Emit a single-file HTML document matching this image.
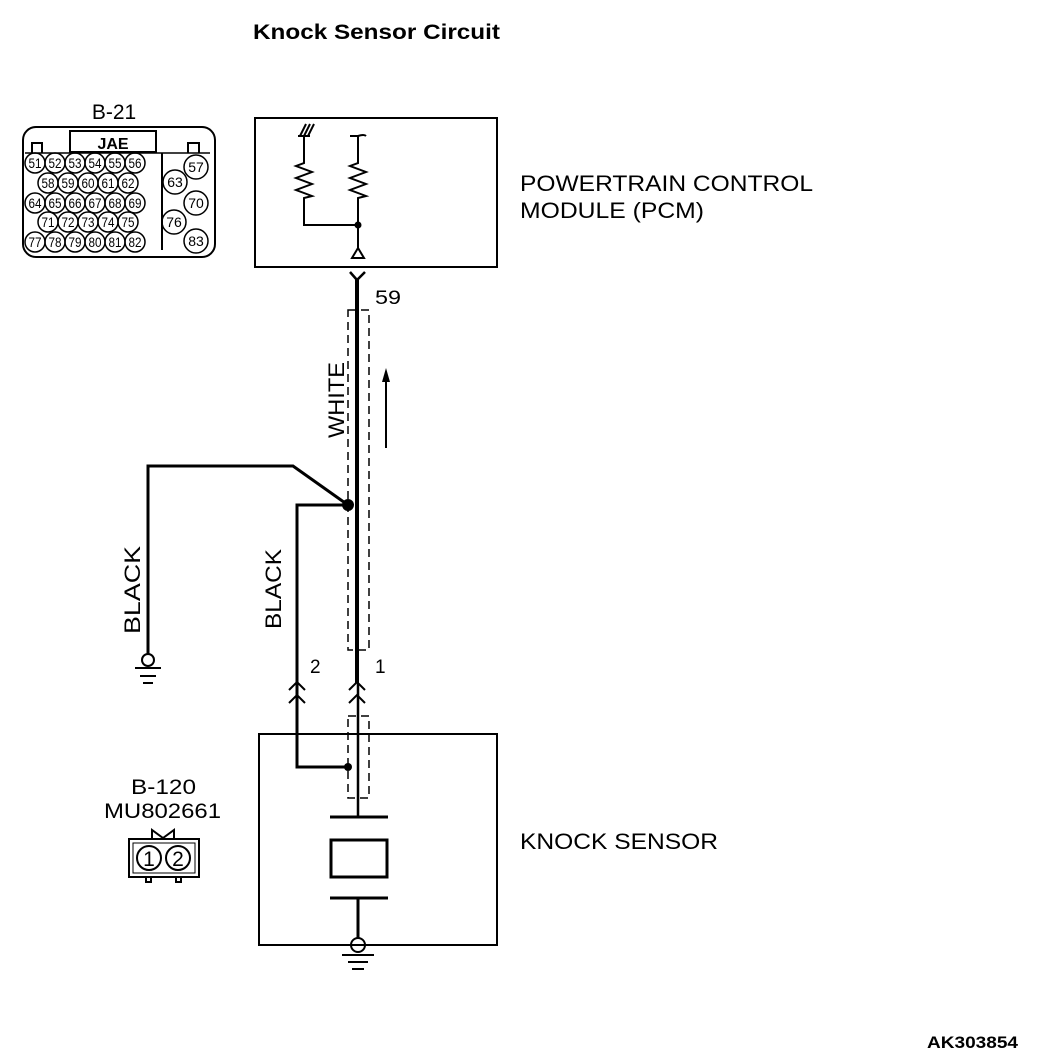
<!DOCTYPE html>
<html><head><meta charset="utf-8"><style>
html,body{margin:0;padding:0;background:#fff;}
svg{display:block;}
text{font-family:"Liberation Sans",Arial,sans-serif;fill:#000;}
</style></head><body>
<svg width="1056" height="1058" viewBox="0 0 1056 1058" xmlns="http://www.w3.org/2000/svg">
<g fill="none" stroke="#000">
<text x="253" y="39" font-size="21" font-weight="bold" stroke="none" textLength="247" lengthAdjust="spacingAndGlyphs">Knock Sensor Circuit</text>

<!-- B-21 connector -->
<text x="114" y="119" font-size="21" text-anchor="middle" stroke="none">B-21</text>
<rect x="23" y="127" width="192" height="130" rx="13" stroke-width="2"/>
<rect x="70" y="131" width="86" height="21" stroke-width="2"/>
<text x="113" y="149" font-size="16" font-weight="bold" text-anchor="middle" stroke="none">JAE</text>
<path d="M32 153V143H42V153 M188 153V143H199V153 M162 153V250" stroke-width="2"/>
<path d="M25 153H210" stroke-width="1.5"/>
<g stroke-width="1.5">
<circle cx="35" cy="163" r="10"/><circle cx="55" cy="163" r="10"/><circle cx="75" cy="163" r="10"/><circle cx="95" cy="163" r="10"/><circle cx="115" cy="163" r="10"/><circle cx="135" cy="163" r="10"/>
<circle cx="48" cy="183" r="10"/><circle cx="68" cy="183" r="10"/><circle cx="88" cy="183" r="10"/><circle cx="108" cy="183" r="10"/><circle cx="128" cy="183" r="10"/>
<circle cx="35" cy="203" r="10"/><circle cx="55" cy="203" r="10"/><circle cx="75" cy="203" r="10"/><circle cx="95" cy="203" r="10"/><circle cx="115" cy="203" r="10"/><circle cx="135" cy="203" r="10"/>
<circle cx="48" cy="222" r="10"/><circle cx="68" cy="222" r="10"/><circle cx="88" cy="222" r="10"/><circle cx="108" cy="222" r="10"/><circle cx="128" cy="222" r="10"/>
<circle cx="35" cy="242" r="10"/><circle cx="55" cy="242" r="10"/><circle cx="75" cy="242" r="10"/><circle cx="95" cy="242" r="10"/><circle cx="115" cy="242" r="10"/><circle cx="135" cy="242" r="10"/>
<circle cx="196" cy="167" r="12"/><circle cx="175" cy="182" r="12"/><circle cx="196" cy="203" r="12"/><circle cx="174" cy="222" r="12"/><circle cx="196" cy="241" r="12"/>
</g>
<g font-size="14" text-anchor="middle" stroke="none" transform="scale(1,1)">
<g transform="translate(0,0)">
<text x="35" y="168" textLength="13" lengthAdjust="spacingAndGlyphs">51</text><text x="55" y="168" textLength="13" lengthAdjust="spacingAndGlyphs">52</text><text x="75" y="168" textLength="13" lengthAdjust="spacingAndGlyphs">53</text><text x="95" y="168" textLength="13" lengthAdjust="spacingAndGlyphs">54</text><text x="115" y="168" textLength="13" lengthAdjust="spacingAndGlyphs">55</text><text x="135" y="168" textLength="13" lengthAdjust="spacingAndGlyphs">56</text>
<text x="48" y="188" textLength="13" lengthAdjust="spacingAndGlyphs">58</text><text x="68" y="188" textLength="13" lengthAdjust="spacingAndGlyphs">59</text><text x="88" y="188" textLength="13" lengthAdjust="spacingAndGlyphs">60</text><text x="108" y="188" textLength="13" lengthAdjust="spacingAndGlyphs">61</text><text x="128" y="188" textLength="13" lengthAdjust="spacingAndGlyphs">62</text>
<text x="35" y="208" textLength="13" lengthAdjust="spacingAndGlyphs">64</text><text x="55" y="208" textLength="13" lengthAdjust="spacingAndGlyphs">65</text><text x="75" y="208" textLength="13" lengthAdjust="spacingAndGlyphs">66</text><text x="95" y="208" textLength="13" lengthAdjust="spacingAndGlyphs">67</text><text x="115" y="208" textLength="13" lengthAdjust="spacingAndGlyphs">68</text><text x="135" y="208" textLength="13" lengthAdjust="spacingAndGlyphs">69</text>
<text x="48" y="227" textLength="13" lengthAdjust="spacingAndGlyphs">71</text><text x="68" y="227" textLength="13" lengthAdjust="spacingAndGlyphs">72</text><text x="88" y="227" textLength="13" lengthAdjust="spacingAndGlyphs">73</text><text x="108" y="227" textLength="13" lengthAdjust="spacingAndGlyphs">74</text><text x="128" y="227" textLength="13" lengthAdjust="spacingAndGlyphs">75</text>
<text x="35" y="247" textLength="13" lengthAdjust="spacingAndGlyphs">77</text><text x="55" y="247" textLength="13" lengthAdjust="spacingAndGlyphs">78</text><text x="75" y="247" textLength="13" lengthAdjust="spacingAndGlyphs">79</text><text x="95" y="247" textLength="13" lengthAdjust="spacingAndGlyphs">80</text><text x="115" y="247" textLength="13" lengthAdjust="spacingAndGlyphs">81</text><text x="135" y="247" textLength="13" lengthAdjust="spacingAndGlyphs">82</text>
<text x="196" y="172">57</text><text x="175" y="187">63</text><text x="196" y="208">70</text><text x="174" y="227">76</text><text x="196" y="246">83</text>
</g></g>

<!-- PCM -->
<rect x="255" y="118" width="242" height="149" stroke-width="2"/>
<path d="M304 136V163L296 166L312 172L296 178L312 184L296 190L312 196L304 198V225H358" stroke-width="2"/>
<path d="M298 136H310 M300 136L306 124 M304 136L310 124 M308 136L314 124" stroke-width="2"/>
<path d="M350 136H358V163L350 166L366 172L350 178L366 184L350 190L366 196L358 198V248 M358 136Q364 134 366 136" stroke-width="2"/>
<circle cx="358" cy="225" r="3" fill="#000"/>
<path d="M358 248L352 258H364Z" stroke-width="2"/>
<text x="520" y="191" font-size="22" stroke="none" textLength="293" lengthAdjust="spacingAndGlyphs">POWERTRAIN CONTROL</text>
<text x="520" y="218" font-size="22" stroke="none" textLength="184" lengthAdjust="spacingAndGlyphs">MODULE (PCM)</text>

<!-- main wire -->
<path d="M350 272L357 280L365 272" stroke-width="2.5"/>
<path d="M357 279V683" stroke-width="4"/>
<text x="375" y="304" font-size="19" stroke="none" textLength="26" lengthAdjust="spacingAndGlyphs">59</text>
<rect x="348" y="310" width="21" height="340" stroke-width="1.5" stroke-dasharray="8,5"/>
<text transform="translate(344,400) rotate(-90)" font-size="22" text-anchor="middle" stroke="none" textLength="76" lengthAdjust="spacingAndGlyphs">WHITE</text>
<path d="M386 448V378" stroke-width="2"/>
<path d="M386 368L382 382H390Z" fill="#000" stroke="none"/>

<!-- black wires -->
<path d="M348 505L293 466H148V654" stroke-width="3"/>
<circle cx="348" cy="505" r="6" fill="#000" stroke="none"/>
<circle cx="148" cy="660" r="6" stroke-width="2"/>
<path d="M135 668H161 M140 676H156 M143 683H153" stroke-width="2"/>
<text transform="translate(140,590) rotate(-90)" font-size="22" text-anchor="middle" stroke="none" textLength="88" lengthAdjust="spacingAndGlyphs">BLACK</text>
<path d="M348 505H297V767H348" stroke-width="3"/>
<circle cx="348" cy="767" r="4" fill="#000" stroke="none"/>
<text transform="translate(281,589) rotate(-90)" font-size="22" text-anchor="middle" stroke="none" textLength="80" lengthAdjust="spacingAndGlyphs">BLACK</text>
<text x="310" y="673" font-size="19" stroke="none">2</text>
<text x="375" y="673" font-size="19" stroke="none">1</text>
<path d="M289 690L297 682L305 690 M289 703L297 695L305 703" stroke-width="2"/>
<path d="M349 690L357 682L365 690 M349 703L357 695L365 703" stroke-width="2"/>
<path d="M358 683V817" stroke-width="2.5"/>

<!-- knock sensor -->
<rect x="259" y="734" width="238" height="211" stroke-width="2"/>
<rect x="348" y="716" width="21" height="82" stroke-width="1.5" stroke-dasharray="8,5"/>
<path d="M330 817H388 M330 898H388 M358 898V939" stroke-width="3"/>
<rect x="331" y="840" width="56" height="37" stroke-width="3"/>
<circle cx="358" cy="945" r="7" stroke-width="2"/>
<path d="M342 955H374 M348 962H368 M352 969H364" stroke-width="2"/>
<text x="520" y="849" font-size="22" stroke="none" textLength="198" lengthAdjust="spacingAndGlyphs">KNOCK SENSOR</text>

<!-- B-120 -->
<text x="131" y="794" font-size="21" stroke="none" textLength="65" lengthAdjust="spacingAndGlyphs">B-120</text>
<text x="104" y="818" font-size="21" stroke="none" textLength="117" lengthAdjust="spacingAndGlyphs">MU802661</text>
<path d="M152 839V830L163 838L174 830V839" stroke-width="2"/>
<rect x="129" y="839" width="70" height="38" stroke-width="2"/>
<rect x="133" y="843" width="62" height="30" stroke-width="1"/>
<circle cx="149" cy="858" r="12" stroke-width="2"/>
<circle cx="178" cy="858" r="12" stroke-width="2"/>
<text x="149" y="866" font-size="21" text-anchor="middle" stroke="none">1</text>
<text x="178" y="866" font-size="21" text-anchor="middle" stroke="none">2</text>
<path d="M146 877V882H151V877 M176 877V882H181V877" stroke-width="2"/>

<text x="927" y="1048" font-size="17" font-weight="bold" stroke="none" textLength="91" lengthAdjust="spacingAndGlyphs">AK303854</text>
</g>
</svg>
</body></html>
